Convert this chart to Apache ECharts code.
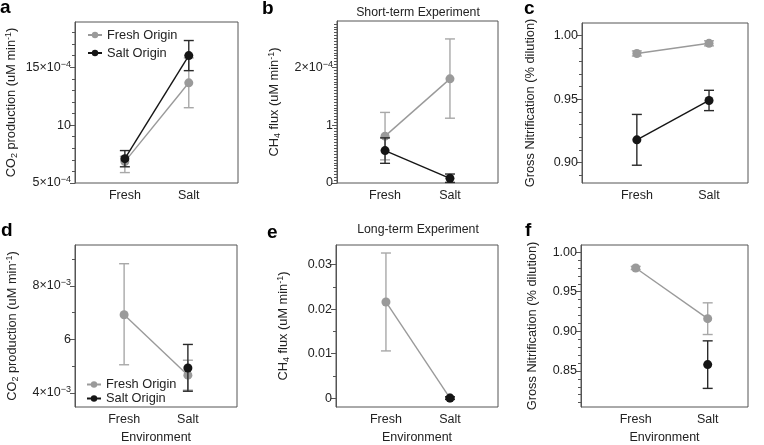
<!DOCTYPE html>
<html>
<head>
<meta charset="utf-8">
<script src="https://cdn.jsdelivr.net/npm/echarts@6.0.0/dist/echarts.min.js"></script>
<style>
html,body{margin:0;padding:0;background:#fff;}
#chart{width:764px;height:445px;}
</style>
</head>
<body>
<div id="chart"></div>
<script>
// ---------- categories ----------
const envCats = ['Fresh', 'Salt'];
const seriesNames = ['Fresh Origin', 'Salt Origin'];

// ---------- panel a: CO2 production, short-term (×10^-4 uM min^-1) ----------
const aFreshMean = [6.85, 13.65], aFreshLo = [5.9, 11.5], aFreshHi = [7.3, 15.8];
const aSaltMean  = [7.1, 16.0],   aSaltLo  = [6.4, 14.7], aSaltHi  = [7.8, 17.3];
// ---------- panel b: CH4 flux, short-term (×10^-4 uM min^-1) ----------
const bFreshMean = [0.81, 1.80], bFreshLo = [0.40, 1.12], bFreshHi = [1.22, 2.49];
const bSaltMean  = [0.56, 0.08], bSaltLo  = [0.34, 0.01], bSaltHi  = [0.78, 0.155];
// ---------- panel c: Gross nitrification, short-term ----------
const cFreshMean = [0.986, 0.994], cFreshLo = [0.984, 0.992], cFreshHi = [0.988, 0.996];
const cSaltMean  = [0.918, 0.949], cSaltLo  = [0.898, 0.941], cSaltHi  = [0.938, 0.957];
// ---------- panel d: CO2 production, long-term (×10^-3 uM min^-1) ----------
const dFreshMean = [6.92, 4.66], dFreshLo = [5.05, 4.10], dFreshHi = [8.83, 5.22];
const dSaltMean  = [null, 4.93], dSaltLo  = [null, 4.06], dSaltHi  = [null, 5.81];
// ---------- panel e: CH4 flux, long-term (uM min^-1) ----------
const eFreshMean = [0.0216, 0.0], eFreshLo = [0.0106, 0.0], eFreshHi = [0.0326, 0.0];
const eSaltMean  = [null, 0.0],   eSaltLo  = [null, -0.0003], eSaltHi = [null, 0.0003];
// ---------- panel f: Gross nitrification, long-term ----------
const fFreshMean = [0.980, 0.916], fFreshLo = [0.978, 0.896], fFreshHi = [0.982, 0.936];
const fSaltMean  = [null, 0.858],  fSaltLo  = [null, 0.828],  fSaltHi  = [null, 0.888];

// ---------- axis ticks and labels ----------
const aMajor = [5, 10, 15], aMajorLabels = ['5×10{s|−4}', '10', '15×10{s|−4}'];
const aMinor = [6, 7, 8, 9, 11, 12, 13, 14, 16, 17, 18];
const bMajor = [0, 1, 2], bMajorLabels = ['0', '1', '2×10{s|−4}'];
const bMinor = [0.05, 0.1, 0.15, 0.2, 0.25, 0.3, 0.35, 0.4, 0.45, 0.5, 0.55, 0.6, 0.65, 0.7, 0.75, 0.8, 0.85, 0.9, 0.95,
                1.05, 1.1, 1.15, 1.2, 1.25, 1.3, 1.35, 1.4, 1.45, 1.5, 1.55, 1.6, 1.65, 1.7, 1.75, 1.8, 1.85, 1.9, 1.95,
                2.05, 2.1, 2.15, 2.2, 2.25, 2.3, 2.35, 2.4, 2.45, 2.5, 2.55, 2.6, 2.65, 2.7, 2.75];
const cMajor = [0.90, 0.95, 1.00], cMajorLabels = ['0.90', '0.95', '1.00'];
const cMinor = [0.89, 0.91, 0.92, 0.93, 0.94, 0.96, 0.97, 0.98, 0.99];
const dMajor = [4, 6, 8], dMajorLabels = ['4×10{s|−3}', '6', '8×10{s|−3}'];
const dMinor = [5, 7, 9];
const eMajor = [0, 0.01, 0.02, 0.03], eMajorLabels = ['0', '0.01', '0.02', '0.03'];
const eMinor = [0.005, 0.015, 0.025];
const fMajor = [0.85, 0.90, 0.95, 1.00], fMajorLabels = ['0.85', '0.90', '0.95', '1.00'];
const fMinor = [0.81, 0.82, 0.83, 0.84, 0.86, 0.87, 0.88, 0.89, 0.91, 0.92, 0.93, 0.94, 0.96, 0.97, 0.98, 0.99];

const yNameCO2 = 'CO{sub|2} production (uM min{sup|-1})';
const yNameCH4 = 'CH{sub|4} flux (uM min{sup|-1})';
const yNameGN = 'Gross Nitrification (% dilution)';

const GRAY = '#9a9a9a', GRAY_ERR = '#a8a8a8', BLACK = '#151515', BLACK_ERR = '#2a2a2a', FRAME = '#555';
const FONT = 'Liberation Sans, Arial, sans-serif';

const panels = [
  {grid:{left:75, top:22, width:163, height:161}, x:[0.22, 2.77], y:[5, 18.9], major:aMajor, labels:aMajorLabels, minor:aMinor, name:yNameCO2, gap:56, xName:'',
   fresh:[aFreshMean, aFreshLo, aFreshHi], salt:[aSaltMean, aSaltLo, aSaltHi]},
  {grid:{left:337, top:21, width:161, height:162}, x:[0.26, 2.74], y:[0, 2.8], major:bMajor, labels:bMajorLabels, minor:bMinor, name:yNameCH4, gap:55, xName:'',
   fresh:[bFreshMean, bFreshLo, bFreshHi], salt:[bSaltMean, bSaltLo, bSaltHi]},
  {grid:{left:582, top:23, width:166, height:160}, x:[0.24, 2.54], y:[0.884, 1.01], major:cMajor, labels:cMajorLabels, minor:cMinor, name:yNameGN, gap:44, xName:'',
   fresh:[cFreshMean, cFreshLo, cFreshHi], salt:[cSaltMean, cSaltLo, cSaltHi]},
  {grid:{left:75, top:245, width:162, height:165}, x:[0.23, 2.77], y:[3.47, 9.53], major:dMajor, labels:dMajorLabels, minor:dMinor, name:yNameCO2, gap:55, xName:'Environment',
   fresh:[dFreshMean, dFreshLo, dFreshHi], salt:[dSaltMean, dSaltLo, dSaltHi]},
  {grid:{left:336, top:245, width:162, height:165}, x:[0.22, 2.75], y:[-0.002, 0.0344], major:eMajor, labels:eMajorLabels, minor:eMinor, name:yNameCH4, gap:45, xName:'Environment',
   fresh:[eFreshMean, eFreshLo, eFreshHi], salt:[eSaltMean, eSaltLo, eSaltHi]},
  {grid:{left:581, top:245, width:167, height:164}, x:[0.24, 2.56], y:[0.8045, 1.009], major:fMajor, labels:fMajorLabels, minor:fMinor, name:yNameGN, gap:41, xName:'Environment',
   fresh:[fFreshMean, fFreshLo, fFreshHi], salt:[fSaltMean, fSaltLo, fSaltHi]}
];

function errRender(color) {
  return function (params, api) {
    const x = api.value(0), lo = api.value(1), hi = api.value(2);
    const p1 = api.coord([x, lo]), p2 = api.coord([x, hi]);
    const w = 5;
    const st = {stroke: color, lineWidth: 1.4};
    return {type: 'group', children: [
      {type: 'line', shape: {x1: p1[0], y1: p1[1], x2: p2[0], y2: p2[1]}, style: st},
      {type: 'line', shape: {x1: p1[0] - w, y1: p1[1], x2: p1[0] + w, y2: p1[1]}, style: st},
      {type: 'line', shape: {x1: p2[0] - w, y1: p2[1], x2: p2[0] + w, y2: p2[1]}, style: st}
    ]};
  };
}

function pts(mean) { const r = []; mean.forEach((v, i) => { if (v !== null) r.push([i + 1, v]); }); return r; }
function errs(mean, lo, hi) { const r = []; mean.forEach((v, i) => { if (v !== null) r.push([i + 1, lo[i], hi[i]]); }); return r; }

const grids = [], xAxes = [], yAxes = [], series = [];
const richTick = {s: {fontSize: 9, lineHeight: 9, verticalAlign: 'top', fontFamily: FONT, color: '#222'}};
panels.forEach((p, k) => {
  grids.push(Object.assign({show: true, borderColor: FRAME, borderWidth: 1, containLabel: false}, p.grid));
  xAxes.push({
    type: 'value', gridIndex: k, min: p.x[0], max: p.x[1],
    axisLine: {show: false}, axisTick: {show: false}, splitLine: {show: false},
    axisLabel: {customValues: [1, 2], formatter: v => envCats[Math.round(v) - 1], fontSize: 12.5, color: '#222', fontFamily: FONT, margin: 6},
    name: p.xName, nameLocation: 'middle', nameGap: 24,
    nameTextStyle: {fontSize: 12.5, color: '#222', fontFamily: FONT}
  });
  yAxes.push({
    type: 'value', gridIndex: k, min: p.y[0], max: p.y[1], position: 'left',
    axisLine: {show: true, lineStyle: {color: FRAME, width: 1}},
    axisTick: {show: true, customValues: p.major, length: 5, lineStyle: {color: FRAME}},
    splitLine: {show: false},
    axisLabel: {customValues: p.major, formatter: v => {
      let idx = 0, best = Infinity;
      p.major.forEach((m, i) => { const d = Math.abs(m - v); if (d < best) { best = d; idx = i; } });
      return p.labels[idx];
    }, fontSize: 12.5, color: '#222', fontFamily: FONT, margin: 4, lineHeight: 15, rich: richTick},
    name: p.name, nameLocation: 'middle', nameGap: p.gap,
    nameTextStyle: {fontSize: 12.8, color: '#222', fontFamily: FONT, lineHeight: 15,
      rich: {sub: {fontSize: 9, lineHeight: 8, verticalAlign: 'bottom', fontFamily: FONT, color: '#222'},
             sup: {fontSize: 9, lineHeight: 8, verticalAlign: 'top', fontFamily: FONT, color: '#222'}}}
  });
  yAxes.push({
    type: 'value', gridIndex: k, min: p.y[0], max: p.y[1], position: 'left',
    axisLine: {show: false}, splitLine: {show: false}, axisLabel: {show: false},
    axisTick: {show: true, customValues: p.minor, length: 3, lineStyle: {color: FRAME}}
  });
  const yi = 2 * k;
  series.push({type: 'custom', name: 'freshErr' + k, xAxisIndex: k, yAxisIndex: yi, renderItem: errRender(GRAY_ERR),
    encode: {x: 0, y: [1, 2]}, data: errs(p.fresh[0], p.fresh[1], p.fresh[2]), z: 2, silent: true});
  series.push({type: 'line', name: seriesNames[0], xAxisIndex: k, yAxisIndex: yi, data: pts(p.fresh[0]),
    symbol: 'circle', symbolSize: 9, showAllSymbol: true, color: GRAY,
    lineStyle: {color: GRAY, width: 1.4}, itemStyle: {color: GRAY}, z: 3});
  series.push({type: 'custom', name: 'saltErr' + k, xAxisIndex: k, yAxisIndex: yi, renderItem: errRender(BLACK_ERR),
    encode: {x: 0, y: [1, 2]}, data: errs(p.salt[0], p.salt[1], p.salt[2]), z: 4, silent: true});
  series.push({type: 'line', name: seriesNames[1], xAxisIndex: k, yAxisIndex: yi, data: pts(p.salt[0]),
    symbol: 'circle', symbolSize: 9, showAllSymbol: true, color: BLACK,
    lineStyle: {color: BLACK, width: 1.4}, itemStyle: {color: BLACK}, z: 5});
});

const letterFont = 'bold 19px ' + FONT;
const textFont = '12.3px ' + FONT;
const option = {
  animation: false,
  backgroundColor: '#fff',
  grid: grids, xAxis: xAxes, yAxis: yAxes, series: series,
  legend: [
    {data: seriesNames, orient: 'vertical', left: 82, top: 23, itemWidth: 14, itemHeight: 8, itemGap: 4,
     textStyle: {fontSize: 12.8, color: '#222', fontFamily: FONT, lineHeight: 14}, selectedMode: false},
    {data: seriesNames, orient: 'vertical', left: 81, top: 373, itemWidth: 14, itemHeight: 8, itemGap: 1,
     textStyle: {fontSize: 12.8, color: '#222', fontFamily: FONT, lineHeight: 13}, selectedMode: false}
  ],
  graphic: [
    {type: 'text', left: 0, top: -2, style: {text: 'a', font: letterFont, fill: '#000'}},
    {type: 'text', left: 262, top: -1, style: {text: 'b', font: letterFont, fill: '#000'}},
    {type: 'text', left: 524, top: -1, style: {text: 'c', font: letterFont, fill: '#000'}},
    {type: 'text', left: 1, top: 221, style: {text: 'd', font: letterFont, fill: '#000'}},
    {type: 'text', left: 267, top: 223, style: {text: 'e', font: letterFont, fill: '#000'}},
    {type: 'text', left: 525, top: 221, style: {text: 'f', font: letterFont, fill: '#000'}},
    {type: 'text', x: 418, y: 13, style: {text: 'Short-term Experiment', font: textFont, fill: '#222', align: 'center', verticalAlign: 'middle'}},
    {type: 'text', x: 418, y: 230, style: {text: 'Long-term Experiment', font: textFont, fill: '#222', align: 'center', verticalAlign: 'middle'}}
  ]
};
const chart = echarts.init(document.getElementById('chart'), null, {renderer: 'canvas'});
chart.setOption(option);
</script>
</body>
</html>
